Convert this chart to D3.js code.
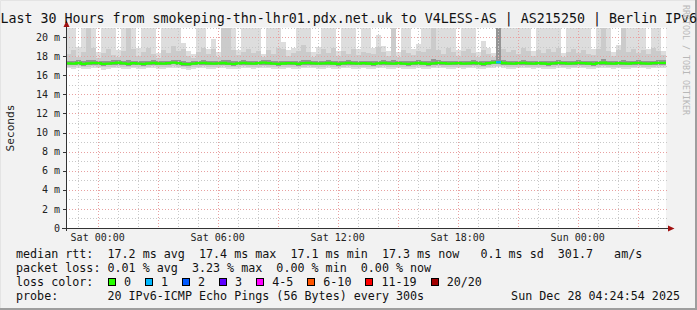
<!DOCTYPE html>
<html>
<head>
<meta charset="utf-8">
<script src="https://cdn.jsdelivr.net/npm/d3@7"></script>
<style>
html, body { margin: 0; padding: 0; background: #f2f2f2; }
svg { display: block; }
text { font-family: "DejaVu Sans Mono", monospace; white-space: pre; }
</style>
</head>
<body>
<svg></svg>
<script>
// 30 hours of data, one column every 15 minutes (120 columns), values in ms
var titleText = "Last 30 Hours from smokeping-thn-lhr01.pdx.net.uk to V4LESS-AS | AS215250 | Berlin IPv6";
var endStamp = "2025-12-28T04:24:54Z";
var stepMinutes = 15;

var medianRtt = [17.25,17.22,17.28,17.20,17.24,17.30,17.26,17.18,17.22,17.27,
  17.31,17.24,17.20,17.26,17.22,17.19,17.25,17.29,17.23,17.21,
  17.27,17.33,17.26,17.20,17.17,17.22,17.26,17.30,17.24,17.21,
  17.25,17.28,17.22,17.19,17.24,17.29,17.25,17.21,17.26,17.32,
  17.27,17.22,17.18,17.23,17.27,17.24,17.20,17.26,17.30,17.25,
  17.21,17.24,17.28,17.23,17.19,17.25,17.29,17.24,17.21,17.26,
  17.23,17.20,17.25,17.29,17.24,17.21,17.26,17.22,17.18,17.24,
  17.28,17.23,17.20,17.25,17.30,17.26,17.22,17.24,17.27,17.21,
  17.25,17.29,17.24,17.20,17.26,17.33,17.36,17.28,17.24,17.21,
  17.26,17.30,17.25,17.22,17.27,17.23,17.19,17.24,17.29,17.26,
  17.22,17.25,17.30,17.27,17.23,17.20,17.26,17.31,17.25,17.22,
  17.27,17.24,17.21,17.26,17.30,17.25,17.22,17.27,17.29,17.30];

// slowest ping of each column (22 = off the top of the chart)
var maxRtt = [22,22,19.0,22,22,22,18.4,22,22,22,
  18.6,22,22,22,18.9,22,22,22,18.3,22,
  22,22,22,19.4,18.5,18.2,22,22,18.8,19.8,
  18.4,22,22,22,18.6,22,22,22,22,18.2,
  22,22,22,19.5,18.6,18.9,22,22,22,18.4,
  19.0,22,22,22,18.5,22,22,22,18.7,22,
  22,18.9,20.2,19.1,18.5,22,18.4,22,22,18.7,
  19.3,22,22,22,22,22,22,22,18.6,22,
  22,22,18.4,19.6,18.9,18.3,22,22,22,22,
  22,22,22,18.5,22,22,22,22,22,18.3,
  22,22,22,22,22,18.8,22,22,22,18.4,
  19.2,22,22,22,22,22,18.7,22,22,18.5];

var highRtt = [18.2,18.6,17.9,18.4,22,18.9,17.8,18.3,18.7,18.1,
  17.9,18.5,22,18.8,18.0,18.4,18.9,18.2,17.8,18.6,
  18.3,19.1,18.5,18.7,18.0,17.8,18.4,18.9,18.2,18.8,
  17.9,22,22,18.6,18.1,18.4,18.8,18.3,18.5,17.9,
  18.6,18.2,18.9,18.8,18.0,18.3,18.5,19.2,18.4,17.9,
  18.2,18.7,18.3,18.9,18.0,18.5,18.2,18.8,18.1,18.4,
  18.3,18.2,19.0,18.4,18.0,22,17.9,18.6,18.3,18.1,
  18.5,18.4,18.8,22,18.6,18.2,18.9,18.4,18.0,18.5,
  18.7,18.3,17.9,18.6,18.2,17.9,22,18.8,18.4,18.6,
  18.2,18.9,18.5,18.0,18.6,18.3,18.7,18.4,18.9,17.9,
  18.4,18.8,18.3,18.6,18.2,18.1,18.7,22,18.5,18.0,
  18.6,22,18.4,18.8,18.3,18.6,18.2,18.9,18.5,18.1];

var q3Rtt = [17.52,17.48,17.55,17.46,17.58,17.60,17.50,17.44,17.49,17.56,
  17.61,17.52,17.62,17.53,17.47,17.45,17.51,17.57,17.49,17.47,
  17.54,17.62,17.55,17.46,17.43,17.48,17.53,17.58,17.50,17.47,
  17.51,17.63,17.60,17.46,17.50,17.56,17.52,17.48,17.53,17.60,
  17.55,17.49,17.45,17.52,17.54,17.50,17.47,17.55,17.59,17.52,
  17.48,17.51,17.56,17.50,17.45,17.52,17.57,17.51,17.48,17.54,
  17.50,17.47,17.53,17.57,17.51,17.62,17.53,17.49,17.44,17.51,
  17.55,17.50,17.47,17.65,17.57,17.53,17.49,17.51,17.54,17.48,
  17.52,17.56,17.51,17.46,17.53,17.60,22,17.55,17.51,17.48,
  17.53,17.57,17.52,17.49,17.54,17.50,17.46,17.51,17.56,17.53,
  17.49,17.52,17.57,17.54,17.50,17.47,17.53,17.66,17.52,17.49,
  17.54,17.63,17.48,17.53,17.57,17.52,17.49,17.54,17.56,17.57];

var q1Rtt = [17.06,17.03,17.08,17.01,17.05,17.10,17.07,16.99,17.03,17.08,
  17.11,17.05,17.01,17.07,17.03,17.00,17.06,17.10,17.04,17.02,
  17.08,17.13,17.07,17.01,16.98,17.03,17.07,17.11,17.05,17.02,
  17.06,17.09,17.03,17.00,17.05,17.10,17.06,17.02,17.07,17.12,
  17.08,17.03,16.99,17.04,17.08,17.05,17.01,17.07,17.11,17.06,
  17.02,17.05,17.09,17.04,17.00,17.06,17.10,17.05,17.02,17.07,
  17.04,17.01,17.06,17.10,17.05,17.02,17.07,17.03,16.99,17.05,
  17.09,17.04,17.01,17.06,17.11,17.07,17.03,17.05,17.08,17.02,
  17.06,17.10,17.05,17.01,17.07,17.13,17.15,17.09,17.05,17.02,
  17.07,17.11,17.06,17.03,17.08,17.04,17.00,17.05,17.10,17.07,
  17.03,17.06,17.11,17.08,17.04,17.01,17.07,17.12,17.06,17.03,
  17.08,17.05,17.02,17.07,17.11,17.06,17.03,17.08,17.10,17.11];

var lowRtt = [16.90,16.86,16.92,16.84,16.88,16.94,16.90,16.82,16.87,16.91,
  16.95,16.88,16.84,16.90,16.86,16.83,16.89,16.93,16.87,16.85,
  16.91,16.96,16.90,16.84,16.80,16.86,16.90,16.94,16.88,16.85,
  16.89,16.92,16.86,16.83,16.88,16.93,16.89,16.85,16.90,16.95,
  16.91,16.86,16.82,16.87,16.91,16.88,16.84,16.90,16.94,16.89,
  16.85,16.88,16.92,16.87,16.83,16.89,16.93,16.88,16.85,16.90,
  16.87,16.84,16.89,16.93,16.88,16.85,16.90,16.86,16.82,16.88,
  16.92,16.87,16.84,16.89,16.94,16.90,16.86,16.88,16.91,16.85,
  16.89,16.93,16.88,16.84,16.90,16.96,16.98,16.92,16.88,16.85,
  16.90,16.94,16.89,16.86,16.91,16.87,16.83,16.88,16.93,16.90,
  16.86,16.89,16.94,16.91,16.87,16.84,16.90,16.95,16.89,16.86,
  16.91,16.88,16.85,16.90,16.94,16.89,16.86,16.91,16.93,16.94];

var minRtt = [16.72,16.66,16.75,16.62,16.70,16.78,16.71,16.60,16.68,16.74,
  16.79,16.69,16.64,16.73,16.67,16.63,16.71,16.77,16.68,16.65,
  16.74,16.80,16.72,16.64,16.58,16.67,16.73,16.78,16.69,16.66,
  16.71,16.76,16.67,16.63,16.70,16.77,16.72,16.66,16.73,16.79,
  16.74,16.67,16.61,16.69,16.75,16.70,16.65,16.73,16.78,16.71,
  16.66,16.70,16.76,16.69,16.63,16.71,16.77,16.70,16.66,16.73,
  16.69,16.65,16.71,16.77,16.70,16.66,16.73,16.67,16.61,16.70,
  16.76,16.69,16.65,16.71,16.78,16.73,16.67,16.70,16.75,16.66,
  16.71,16.77,16.70,16.65,16.73,16.80,16.82,16.76,16.70,16.66,
  16.73,16.78,16.71,16.67,16.74,16.69,16.63,16.70,16.77,16.73,
  16.67,16.71,16.78,16.74,16.69,16.65,16.73,16.79,16.71,16.67,
  16.74,16.70,16.66,16.73,16.78,16.71,16.67,16.74,16.76,16.78];

// lost pings (of 20) per column
var lossCount = [0,0,0,0,0,0,0,0,0,0, 0,0,0,0,0,0,0,0,0,0,
  0,0,0,0,0,0,0,0,0,0, 0,0,0,0,0,0,0,0,0,0,
  0,0,0,0,0,0,0,0,0,0, 0,0,0,0,0,0,0,0,0,0,
  0,0,0,0,0,0,0,0,0,0, 0,0,0,0,0,0,0,0,0,0,
  0,0,0,0,0,0,1,0,0,0, 0,0,0,0,0,0,0,0,0,0,
  0,0,0,0,0,0,0,0,0,0, 0,0,0,0,0,0,0,0,0,0];

var lossLabels = ["0", "1", "2", "3", "4-5", "6-10", "11-19", "20/20"];
var lossColors = ["#26ff00", "#00b8ff", "#0059ff", "#5e00ff", "#ff00ff", "#ff5500", "#ff0000", "#a10000"];
var lossLimits = [0, 1, 2, 3, 5, 10, 19, 20];

var legendRows = [
  "median rtt:  17.2 ms avg  17.4 ms max  17.1 ms min  17.3 ms now   0.1 ms sd  301.7   am/s",
  "packet loss: 0.01 % avg  3.23 % max  0.00 % min  0.00 % now",
  "loss color:",
  "probe:       20 IPv6-ICMP Echo Pings (56 Bytes) every 300s"
];
var stampText = "Sun Dec 28 04:24:54 2025";

var width = 697, height = 310;
var plotLeft = 66, plotRight = 666, plotTop = 27.5, plotBottom = 228;

var endTime = new Date(endStamp);
var startTime = d3.utcHour.offset(endTime, -30);

var x = d3.scaleUtc().domain([startTime, endTime]).range([plotLeft, plotRight]);
var y = d3.scaleLinear().domain([0, 21]).range([plotBottom, plotTop]);

var cols = medianRtt.map(function(m, i) {
  var t0 = d3.utcMinute.offset(startTime, i * stepMinutes);
  return {
    t0: t0, t1: d3.utcMinute.offset(t0, stepMinutes),
    median: m, max: maxRtt[i], high: highRtt[i], q3: q3Rtt[i],
    q1: q1Rtt[i], low: lowRtt[i], min: minRtt[i], loss: lossCount[i]
  };
});

function lossColor(n) {
  for (var k = 0; k < lossLimits.length; k++) if (n <= lossLimits[k]) return lossColors[k];
  return lossColors[lossColors.length - 1];
}

var svg = d3.select("svg").attr("width", width).attr("height", height);

svg.append("rect").attr("width", width).attr("height", height).attr("fill", "#f2f2f2");
svg.append("path").attr("d", "M0,309H696V0").attr("fill", "none").attr("stroke", "#9e9e9e").attr("stroke-width", 2);
svg.append("path").attr("d", "M0.5,308V0.5H695").attr("fill", "none").attr("stroke", "#e4e4e4").attr("stroke-width", 1);

svg.append("rect")
  .attr("x", plotLeft).attr("y", plotTop)
  .attr("width", plotRight - plotLeft).attr("height", plotBottom - plotTop)
  .attr("fill", "#ffffff");

svg.append("clipPath").attr("id", "plotclip")
  .append("rect")
  .attr("x", plotLeft).attr("y", y(21) + 0.5)
  .attr("width", plotRight - plotLeft).attr("height", plotBottom - y(21));

var smoke = svg.append("g").attr("clip-path", "url(#plotclip)");

function band(lo, hi, color) {
  smoke.append("g").selectAll("rect")
    .data(cols)
    .join("rect")
    .attr("x", d => x(d.t0))
    .attr("width", d => x(d.t1) - x(d.t0))
    .attr("y", d => y(d[hi]))
    .attr("height", d => y(d[lo]) - y(d[hi]))
    .attr("fill", color)
    .attr("shape-rendering", "crispEdges");
}
band("min", "max", "#dddddd");
band("low", "high", "#cbcbcb");
band("q1", "q3", "#959595");

// grid
var grid = svg.append("g").attr("shape-rendering", "crispEdges").attr("stroke-dasharray", "1,2");
var hourTicks = d3.utcHour.range(d3.utcHour.ceil(startTime), endTime);
grid.selectAll("line.vmin")
  .data(hourTicks.filter(t => t.getUTCHours() % 3 !== 0))
  .join("line")
  .attr("x1", d => Math.round(x(d)) + 0.5).attr("x2", d => Math.round(x(d)) + 0.5)
  .attr("y1", plotTop).attr("y2", plotBottom)
  .attr("stroke", "#c8c8c8");
grid.selectAll("line.vmaj")
  .data(hourTicks.filter(t => t.getUTCHours() % 3 === 0))
  .join("line")
  .attr("x1", d => Math.round(x(d)) + 0.5).attr("x2", d => Math.round(x(d)) + 0.5)
  .attr("y1", plotTop).attr("y2", plotBottom)
  .attr("stroke", "#e8a0a0");
var yMinor = y.ticks(21).filter(v => v % 2 !== 0);
var yMajor = y.ticks(21).filter(v => v % 2 === 0 && v > 0);
grid.selectAll("line.hmin")
  .data(yMinor)
  .join("line")
  .attr("x1", plotLeft).attr("x2", plotRight + 2)
  .attr("y1", d => Math.round(y(d)) + 0.5).attr("y2", d => Math.round(y(d)) + 0.5)
  .attr("stroke", "#c8c8c8");
grid.selectAll("line.hmaj")
  .data(yMajor)
  .join("line")
  .attr("x1", plotLeft).attr("x2", plotRight + 2)
  .attr("y1", d => Math.round(y(d)) + 0.5).attr("y2", d => Math.round(y(d)) + 0.5)
  .attr("stroke", "#e8a0a0");

// median line, coloured by loss
var medianLine = d3.line()
  .x(d => x(d.t))
  .y(d => y(d.v))
  .curve(d3.curveStepAfter);
var medPts = cols.map(d => ({t: d.t0, v: d.median}));
medPts.push({t: endTime, v: cols[cols.length - 1].median});
svg.append("path")
  .attr("d", medianLine(medPts))
  .attr("fill", "none")
  .attr("stroke", lossColors[0])
  .attr("stroke-width", 2.3);
svg.append("g").selectAll("line")
  .data(cols.filter(d => d.loss > 0))
  .join("line")
  .attr("x1", d => x(d.t0)).attr("x2", d => x(d.t1))
  .attr("y1", d => y(d.median)).attr("y2", d => y(d.median))
  .attr("stroke", d => lossColor(d.loss))
  .attr("stroke-width", 2.3);

// axes
var axisG = svg.append("g").attr("shape-rendering", "crispEdges");
axisG.append("line").attr("x1", 66.5).attr("x2", 66.5).attr("y1", 231).attr("y2", 24).attr("stroke", "#333");
axisG.append("line").attr("x1", 62).attr("x2", 670).attr("y1", 228.5).attr("y2", 228.5).attr("stroke", "#333");
axisG.selectAll("line.yt")
  .data(y.ticks(11))
  .join("line")
  .attr("x1", 63).attr("x2", 66)
  .attr("y1", d => Math.round(y(d)) + 0.5).attr("y2", d => Math.round(y(d)) + 0.5)
  .attr("stroke", "#333");
svg.append("path").attr("d", "M63.5,27L66.5,20.5L69.5,27Z").attr("fill", "#a01010");
svg.append("path").attr("d", "M668,225.5L674.5,228.5L668,231.5Z").attr("fill", "#a01010");

svg.append("g").selectAll("text")
  .data(y.ticks(11))
  .join("text")
  .attr("x", 60).attr("y", d => y(d) + 3.6)
  .attr("text-anchor", "end")
  .attr("font-size", "10px")
  .attr("fill", "#222")
  .text(d => d === 0 ? "0" : d + " m");

svg.append("g").selectAll("text")
  .data(hourTicks.filter(t => t.getUTCHours() % 6 === 0))
  .join("text")
  .attr("x", d => x(d)).attr("y", 241)
  .attr("text-anchor", "middle")
  .attr("font-size", "10px")
  .attr("fill", "#222")
  .text(d3.utcFormat("%a %H:%M"));

svg.append("text")
  .attr("transform", "translate(14,128) rotate(-90)")
  .attr("text-anchor", "middle")
  .attr("font-size", "11.2px")
  .attr("fill", "#222")
  .text("Seconds");

svg.append("text")
  .attr("x", 0.5).attr("y", 22.5)
  .attr("font-size", "13.3px")
  .attr("fill", "#111")
  .text(titleText);

svg.append("text")
  .attr("transform", "translate(683,5) rotate(90)")
  .attr("font-size", "8.3px")
  .attr("fill", "#b8b8b8")
  .text("RRDTOOL / TOBI OETIKER");

// legend
var legendBase = [258, 272, 286, 300];
svg.append("g").selectAll("text")
  .data(legendRows)
  .join("text")
  .attr("x", 16).attr("y", (d, i) => legendBase[i])
  .attr("font-size", "11.7px")
  .attr("fill", "#111")
  .text(d => d);

var cursor = 108, boxes = [];
lossLabels.forEach(function(l, i) {
  boxes.push({x: cursor, label: l, color: lossColors[i]});
  cursor += 30 + 7.04 * l.length;
});
var lg = svg.append("g");
lg.selectAll("rect")
  .data(boxes)
  .join("rect")
  .attr("x", d => Math.round(d.x) + 0.5).attr("y", 278.5)
  .attr("width", 7).attr("height", 7)
  .attr("fill", d => d.color)
  .attr("stroke", "#000");
lg.selectAll("text")
  .data(boxes)
  .join("text")
  .attr("x", d => d.x + 16).attr("y", 286)
  .attr("font-size", "11.7px")
  .attr("fill", "#111")
  .text(d => d.label);

svg.append("text")
  .attr("x", 680).attr("y", 300)
  .attr("text-anchor", "end")
  .attr("font-size", "11.7px")
  .attr("fill", "#111")
  .text(stampText);
</script>
</body>
</html>
